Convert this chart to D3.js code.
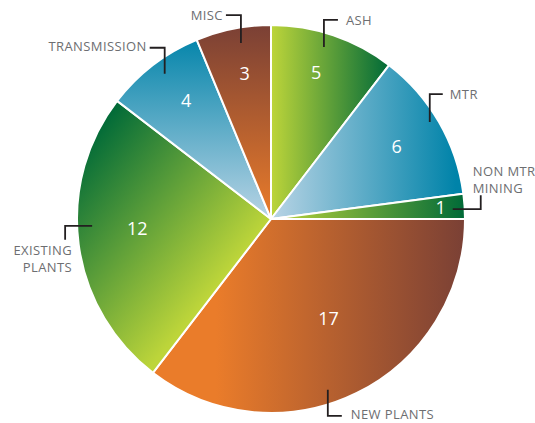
<!DOCTYPE html>
<html><head><meta charset="utf-8">
<script src="https://cdn.jsdelivr.net/npm/d3@7"></script>
<style>html,body{margin:0;padding:0;background:#fff;}svg{display:block;}</style>
</head><body>
<svg id="chart" width="535" height="423"></svg>
<script>
// ---- data ----
const categories = ["ASH", "MTR", "NON MTR|MINING", "NEW PLANTS", "EXISTING|PLANTS", "TRANSMISSION", "MISC"];
const values = [5, 6, 1, 17, 12, 4, 3];

// ---- layout / style config ----
const W = 535, H = 423, cx = 271, cy = 219, R = 194;
const YG = "#bdd53a", DG = "#006a38", LB = "#b9d4e5", BL = "#0083a9", OR = "#ea7c2a", BR = "#7a4035";
const gradients = [
  {c: [YG, DG], v: [0, 0, 118, 0]},
  {c: [LB, BL], v: [0, 0, 185, 0]},
  {c: [YG, DG], v: [0, 0, 194, 0]},
  {c: [OR, BR], v: [-55, 0, 194, 0]},
  {c: [DG, YG], v: [-150, -122, 0, 0]},
  {c: [BL, LB], v: [0, -185, 0, 0]},
  {c: [BR, OR], v: [0, -194, 0, 0]}
];
const labelRadius = [153, 145, 170, 115, 134, 146, 148];
const labelNudge = [-1.6, 0, 0, -3.75, 3.5, 2, 1];
// callouts: start polar [deg, r], legs, text offset from end point
const callouts = [
  {a: 17.1, r: 180, legs: [["v", -27], ["h", 14]], tx: 8, ty: [0], anchor: "start"},
  {a: 58.6, r: 186, legs: [["v", -28], ["h", 13]], tx: 7, ty: [0], anchor: "start"},
  {a: 86.9, r: 182, legs: [["h", 28], ["v", -14]], tx: -8, ty: [-24, -7], anchor: "start"},
  {a: 161.6, r: 180, legs: [["v", 26], ["h", 14]], tx: 9, ty: [-1], anchor: "start"},
  {a: 267.8, r: 179, legs: [["h", -27], ["v", 14]], tx: 7, ty: [10, 27], anchor: "end"},
  {a: 323.8, r: 180, legs: [["v", -26], ["h", -15]], tx: -3, ty: [-1], anchor: "end"},
  {a: 350.3, r: 178.5, legs: [["v", -28], ["h", -15]], tx: -3, ty: [0], anchor: "end"}
];

const svg = d3.select("#chart");
const defs = svg.append("defs");
gradients.forEach((g, i) => {
  const lg = defs.append("linearGradient").attr("id", "g" + i)
    .attr("gradientUnits", "userSpaceOnUse")
    .attr("x1", g.v[0]).attr("y1", g.v[1]).attr("x2", g.v[2]).attr("y2", g.v[3]);
  lg.append("stop").attr("offset", 0).attr("stop-color", g.c[0]);
  lg.append("stop").attr("offset", 1).attr("stop-color", g.c[1]);
});

const g = svg.append("g").attr("transform", `translate(${cx},${cy})`);
const pie = d3.pie().sort(null).value(d => d)(values);
const arc = d3.arc().innerRadius(0).outerRadius(R);

g.selectAll("path.slice").data(pie).join("path")
  .attr("class", "slice")
  .attr("d", arc)
  .attr("fill", (d, i) => `url(#g${i})`)
  .attr("stroke", "#fff").attr("stroke-width", 2).attr("stroke-linejoin", "round");

const polar = (deg, r) => [r * Math.sin(deg * Math.PI / 180), -r * Math.cos(deg * Math.PI / 180)];
const toDeg = rad => rad * 180 / Math.PI;

g.selectAll("text.val").data(pie).join("text")
  .attr("class", "val")
  .attr("transform", (d, i) => {
    const mid = toDeg((d.startAngle + d.endAngle) / 2) + labelNudge[i];
    const p = polar(mid, labelRadius[i]);
    return `translate(${p[0]},${p[1]})`;
  })
  .attr("text-anchor", "middle").attr("dy", "0.36em")
  .attr("font-family", "'Open Sans', sans-serif").attr("font-size", 18)
  .attr("fill", "#fff")
  .text(d => d.data);

callouts.forEach((c, i) => {
  let p = polar(c.a, c.r);
  const pts = [p.slice()];
  c.legs.forEach(l => {
    if (l[0] === "v") p = [p[0], p[1] + l[1]]; else p = [p[0] + l[1], p[1]];
    pts.push(p.slice());
  });
  g.append("path").attr("d", d3.line()(pts))
    .attr("fill", "none").attr("stroke", "#231f20").attr("stroke-width", 1.8);
  const lines = categories[i].split("|");
  const t = g.append("text")
    .attr("text-anchor", c.anchor)
    .attr("font-family", "'Open Sans', sans-serif").attr("font-size", 13)
    .attr("letter-spacing", 0.4)
    .attr("fill", "#6d6e71");
  lines.forEach((ln, k) => {
    t.append("tspan").attr("x", p[0] + c.tx).attr("y", p[1] + c.ty[k]).attr("dy", "0.36em").text(ln);
  });
});
</script>
</body></html>
